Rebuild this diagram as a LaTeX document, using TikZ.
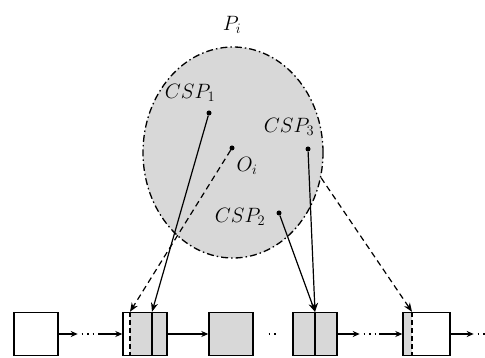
\documentclass[tikz,border=0pt]{standalone}
\usetikzlibrary{arrows.meta,shapes.geometric,backgrounds}
\definecolor{boxgray}{RGB}{216,216,216}
\begin{document}
\begin{tikzpicture}[x=1pt,y=-1pt,
  box/.style={draw, line width=1.4pt, minimum width=44pt, minimum height=43pt, inner sep=0pt},
  conn/.style={line width=1.2pt, -{Stealth[length=9pt,width=7pt]}},
  hconn/.style={line width=1.2pt, -{Stealth[length=7pt,width=6pt]}},
  dconn/.style={conn, dash pattern=on 6pt off 4pt},
  lbl/.style={font=\fontsize{21}{24}\selectfont, inner sep=0pt},
  pt/.style={circle, fill, inner sep=0pt, minimum size=5pt},
  dotline/.style={line width=1.2pt, dash pattern=on 1.5pt off 4pt}
]
\useasboundingbox (0,0) rectangle (485,358);

% ellipse P_i
\node[ellipse, draw, fill=boxgray, line width=1.3pt,
      dash pattern=on 7pt off 3pt on 1.5pt off 3pt,
      minimum width=180pt, minimum height=211pt, inner sep=0pt] (P) at (233,152.5) {};
\node[lbl] (Pl) at (232,25) {$P_i$};

% points and labels
\node[lbl] (l1) at (190,93) {$CSP_1$};
\node[lbl] (l3) at (289,127) {$CSP_3$};
\node[lbl] (lo) at (247,166) {$O_i$};
\node[lbl] (l2) at (240,217) {$CSP_2$};
\node[pt] (c1) at (209,113) {};
\node[pt] (o)  at (232,148) {};
\node[pt] (c3) at (308,149) {};
\node[pt] (c2) at (279,213) {};

% boxes
\node[box] (b1) at (36,334) {};
\node[box] (b2) at (145,334) {};
\node[box, fill=boxgray] (b3) at (231,334) {};
\node[box, fill=boxgray] (b4) at (315,334) {};
\node[box, minimum width=47pt] (b5) at (426.5,334) {};

% box internals
\coordinate (b2d) at ([xshift=-15pt]b2.north);
\coordinate (b2s) at ([xshift=7pt]b2.north);
\coordinate (b4s) at (b4.north);
\coordinate (b5d) at ([xshift=-14.5pt]b5.north);
\begin{scope}[on background layer]
  \fill[boxgray] (b2d |- b2.south) rectangle (b2.north east);
  \fill[boxgray] (b5.north west) rectangle (b5d |- b5.south);
\end{scope}
\draw[line width=1.2pt, dash pattern=on 5pt off 3pt] (b2d) -- (b2d |- b2.south);
\draw[line width=1.2pt] (b2s) -- (b2s |- b2.south);
\draw[line width=1.2pt] (b4s) -- (b4s |- b4.south);
\draw[line width=1.2pt, dash pattern=on 5pt off 3pt] (b5d) -- (b5d |- b5.south);

% connectors from ellipse
\draw[conn] (c1) -- (b2s);
\draw[dconn] (o) -- (b2d);
\draw[conn] (c2) -- (b4s);
\draw[conn] (c3) -- (b4s);
\draw[dconn] (P.-16) -- (b5d);

% horizontal chain
\coordinate (h1a) at ([xshift=19pt]b1.east);
\coordinate (h1b) at ([xshift=-24pt]b2.west);
\draw[hconn] (b1.east) -- (h1a);
\draw[dotline] ([xshift=4pt]h1a) -- ([xshift=-2pt]h1b);
\draw[hconn] (h1b) -- (b2.west);

\draw[hconn] (b2.east) -- (b3.west);

\coordinate (m1) at ([xshift=15pt]b3.east);
\coordinate (m2) at ([xshift=-13pt]b4.west);
\draw[dotline] (m1) -- (m2);

\coordinate (h2a) at ([xshift=22pt]b4.east);
\coordinate (h2b) at ([xshift=-23pt]b5.west);
\draw[hconn] (b4.east) -- (h2a);
\draw[dotline] ([xshift=4pt]h2a) -- ([xshift=-2pt]h2b);
\draw[hconn] (h2b) -- (b5.west);

\coordinate (h3a) at ([xshift=23pt]b5.east);
\draw[hconn] (b5.east) -- (h3a);
\draw[dotline] ([xshift=4pt]h3a) -- (485,334);
\end{tikzpicture}
\end{document}
